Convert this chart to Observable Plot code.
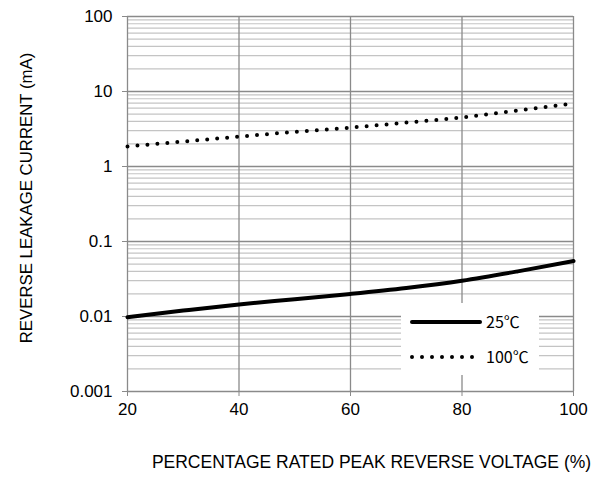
<!DOCTYPE html>
<html>
<head>
<meta charset="utf-8">
<script src="https://cdn.jsdelivr.net/npm/d3@7"></script>
<script src="https://cdn.jsdelivr.net/npm/@observablehq/plot@0.6"></script>
<style>
  html, body { margin: 0; padding: 0; background: #fff; }
  #wrap { position: relative; width: 610px; height: 479px; font-family: "Liberation Sans", Arial, sans-serif; }
  #legend { position: absolute; left: 401px; top: 303px; width: 138px; height: 72px; background: #fff; }
</style>
</head>
<body>
<div id="wrap">
  <div id="chart"></div>
  <div id="legend"></div>
</div>
<script>
// ---- data ----
const xTicks = [20, 40, 60, 80, 100];
const yTicks = [0.001, 0.01, 0.1, 1, 10, 100];
const yTickLabels = ["0.001", "0.01", "0.1", "1", "10", "100"];
const voltage = [20, 30, 40, 50, 60, 70, 80, 90, 100];
const leak25 = [0.0098, 0.012, 0.0145, 0.017, 0.020, 0.024, 0.030, 0.040, 0.055];
const leak100 = [1.85, 2.15, 2.5, 2.9, 3.3, 3.85, 4.5, 5.6, 6.9];
const seriesNames = ["25\u2103", "100\u2103"];
const xTitle = "PERCENTAGE RATED PEAK REVERSE VOLTAGE (%)";
const yTitle = "REVERSE LEAKAGE CURRENT (mA)";

// minor log grid positions (2..9 within each decade)
const minor = [];
for (let i = 0; i < yTicks.length - 1; i++) {
  for (let k = 2; k <= 9; k++) minor.push(+(yTicks[i] * k).toPrecision(3));
}

const d25 = voltage.map((v, i) => ({v, c: leak25[i]}));
const d100 = voltage.map((v, i) => ({v, c: leak100[i]}));

const major = "#8a8a8a";
const minorCol = "#c4c4c4";

const chart = Plot.plot({
  width: 610,
  height: 479,
  marginLeft: 127,
  marginRight: 37,
  marginTop: 16,
  marginBottom: 88,
  style: { fontFamily: "'Liberation Sans', Arial, sans-serif", fontSize: "17px", background: "#fff", color: "#000" },
  x: { domain: [20, 100] },
  y: { type: "log", domain: [0.001, 100] },
  marks: [
    Plot.ruleY(minor, { stroke: minorCol, strokeWidth: 1.2 }),
    Plot.ruleY(yTicks, { stroke: major, strokeWidth: 1.3 }),
    Plot.ruleX(xTicks, { stroke: major, strokeWidth: 1.3 }),
    Plot.axisY({ ticks: yTicks, tickFormat: (d) => yTickLabels[yTicks.indexOf(d)], tickSize: 5, tickPadding: 10, stroke: major, label: null, fontSize: 17 }),
    Plot.axisX({ ticks: xTicks, tickFormat: (d) => String(d), tickSize: 5, tickPadding: 6, stroke: major, label: null, fontSize: 17 }),
    Plot.line(d25, { x: "v", y: "c", stroke: "#000", strokeWidth: 4, curve: "monotone-x" }),
    Plot.line(d100, { x: "v", y: "c", stroke: "#000", strokeWidth: 4, strokeDasharray: "0,10", strokeLinecap: "round", curve: "monotone-x" }),
    Plot.text([xTitle], { frameAnchor: "bottom", dy: 76, dx: 21, fontSize: 17.5, fill: "#000" }),
    Plot.text([yTitle], { frameAnchor: "left", textAnchor: "middle", dx: -101, dy: -6, rotate: -90, fontSize: 16.8, fill: "#000" })
  ]
});
document.getElementById("chart").appendChild(chart);

// legend
const lg = d3.select("#legend").append("svg").attr("width", 138).attr("height", 72);
const rows = [
  { name: seriesNames[0], dash: null, y: 19 },
  { name: seriesNames[1], dash: "0,10", y: 54 }
];
rows.forEach(r => {
  const l = lg.append("line").attr("x1", 11).attr("x2", 79).attr("y1", r.y).attr("y2", r.y)
    .attr("stroke", "#000").attr("stroke-width", 4).attr("stroke-linecap", "round");
  if (r.dash) l.attr("stroke-dasharray", r.dash);
  lg.append("text").attr("x", 85).attr("y", r.y).attr("dy", "0.35em")
    .attr("font-family", "'Noto Sans CJK SC', 'Noto Sans', sans-serif").attr("font-size", 16)
    .attr("fill", "#000").text(r.name);
});
</script>
</body>
</html>
